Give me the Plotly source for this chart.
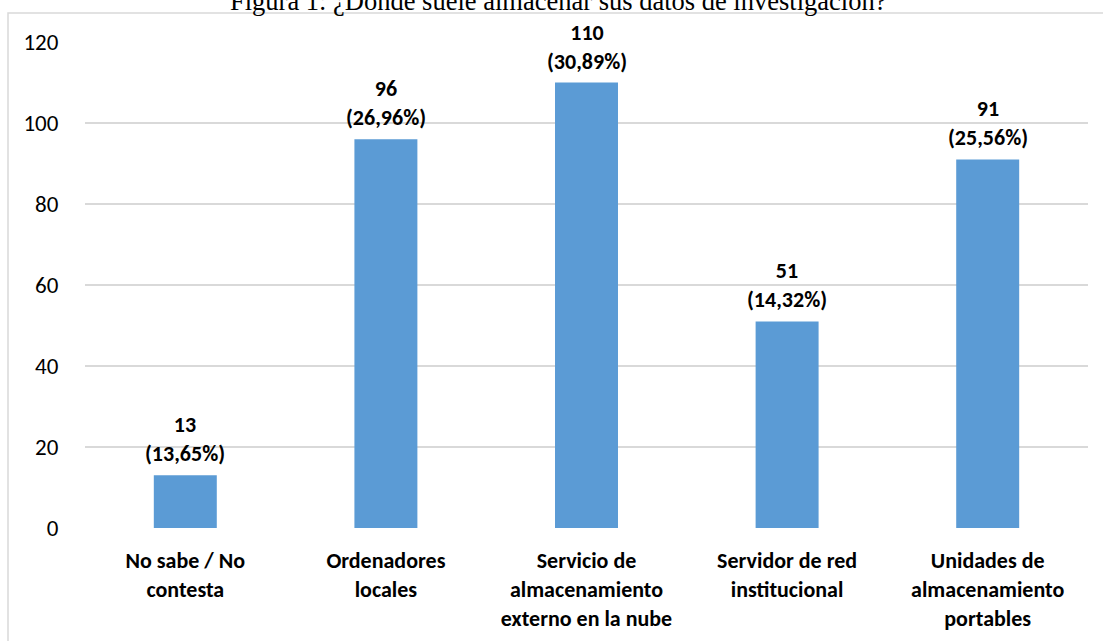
import plotly.graph_objects as go

categories = ["No sabe / No<br>contesta", "Ordenadores<br>locales",
              "Servicio de<br>almacenamiento<br>externo en la nube",
              "Servidor de red<br>institucional",
              "Unidades de<br>almacenamiento<br>portables"]
values = [13, 96, 110, 51, 91]
percent_labels = ["13,65%", "26,96%", "30,89%", "14,32%", "25,56%"]
y_ticks = [0, 20, 40, 60, 80, 100, 120]
title_text = "Figura 1: ¿Dónde suele almacenar sus datos de investigación?"

FONT = "Carlito, Lato, sans-serif"
W, H = 1103, 641
L, R, T, B = 85, 15, 42, 113
pw, ph = W - L - R, H - T - B

fig = go.Figure()
fig.add_trace(go.Bar(x=categories, y=values, marker=dict(color="#5b9bd5", line=dict(width=0)),
                     hoverinfo="skip"))

for c, v, p in zip(categories, values, percent_labels):
    fig.add_annotation(x=c, y=v, xref="x", yref="y", text=f"<b>{v}<br>({p})</b>",
                       showarrow=False, yanchor="bottom", yshift=6,
                       font=dict(family=FONT, size=22, color="#000000"))

fig.add_annotation(x=(558 - L) / pw, xref="paper", yref="paper",
                   y=(H - B - 18) / ph, text=title_text, showarrow=False,
                   yanchor="bottom", xanchor="center",
                   font=dict(family="Liberation Serif", size=26.5, color="#000000"))

fig.add_shape(type="rect", xref="paper", yref="paper",
              x0=(8 - L) / pw, x1=1.2, y0=-0.5, y1=(H - B - 13) / ph,
              line=dict(color="#d9d9d9", width=1.5), fillcolor="rgba(0,0,0,0)", layer="below")

fig.update_layout(
    width=W, height=H, margin=dict(l=L, r=R, t=T, b=B),
    paper_bgcolor="white", plot_bgcolor="white",
    bargap=0.686, showlegend=False,
    font=dict(family=FONT, size=21, color="#000000"),
)
fig.update_xaxes(showgrid=False, showline=False, ticks="outside", ticklen=13,
                 tickcolor="rgba(0,0,0,0)", tickprefix="<b>", ticksuffix="</b>",
                 automargin=False,
                 tickfont=dict(family=FONT, size=22, color="#000000"))
fig.update_yaxes(range=[0, 120], tickvals=y_ticks, showgrid=True, gridcolor="#d9d9d9",
                 gridwidth=1.5, zeroline=False, showline=False, ticks="outside", ticklen=21,
                 tickcolor="rgba(0,0,0,0)", automargin=False,
                 tickfont=dict(family=FONT, size=23, color="#000000"))

fig.write_html("out.html")
